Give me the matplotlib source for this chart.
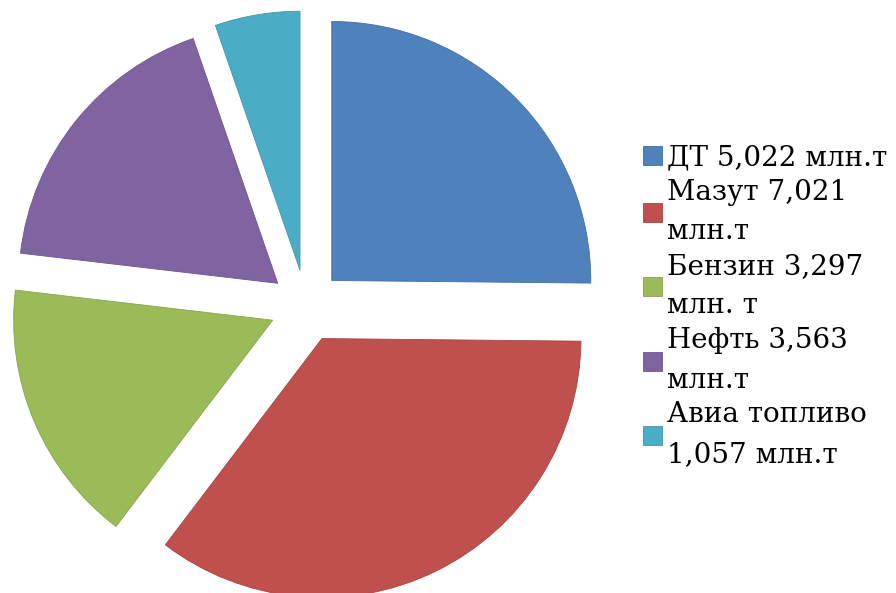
import matplotlib
matplotlib.use("Agg")
import matplotlib.pyplot as plt

labels = ["ДТ 5,022 млн.т", "Мазут 7,021\nмлн.т", "Бензин 3,297\nмлн. т",
          "Нефть 3,563\nмлн.т", "Авиа топливо\n1,057 млн.т"]
values = [5.022, 7.021, 3.297, 3.563, 1.057]
colors = ["#4F81BD", "#C0504D", "#9BBB59", "#8064A2", "#4BACC6"]
edges = ["#3F6FA8", "#A84340", "#86A54A", "#6E5590", "#3E98B0"]

fig = plt.figure(figsize=(8.96, 5.93), dpi=100)
W, H = 896, 593
cx, cy, r = 306, 306, 259
ax = fig.add_axes([(cx - r) / W, (H - cy - r) / H, 2 * r / W, 2 * r / H])
wedges, _ = ax.pie(values, colors=colors, startangle=90, counterclock=False,
                   explode=[0.14] * 5, radius=1,
                   wedgeprops=dict(linewidth=0.6))
for w, ec in zip(wedges, edges):
    w.set_edgecolor(ec)
    w.set_clip_on(False)
ax.set_aspect("auto")
ax.set_xlim(-1, 1)
ax.set_ylim(-1, 1)
ax.axis("off")

leg = fig.legend(wedges, labels, loc="center left", bbox_to_anchor=(643 / W, 1 - 306 / H),
                 frameon=False, prop=dict(family="DejaVu Serif", size=20),
                 handlelength=0.68, handleheight=0.68, handletextpad=0.18,
                 labelspacing=0.27, borderpad=0, borderaxespad=0)
for t in leg.get_texts():
    t.set_linespacing(1.6)
fig.savefig("out.png", dpi=100)
